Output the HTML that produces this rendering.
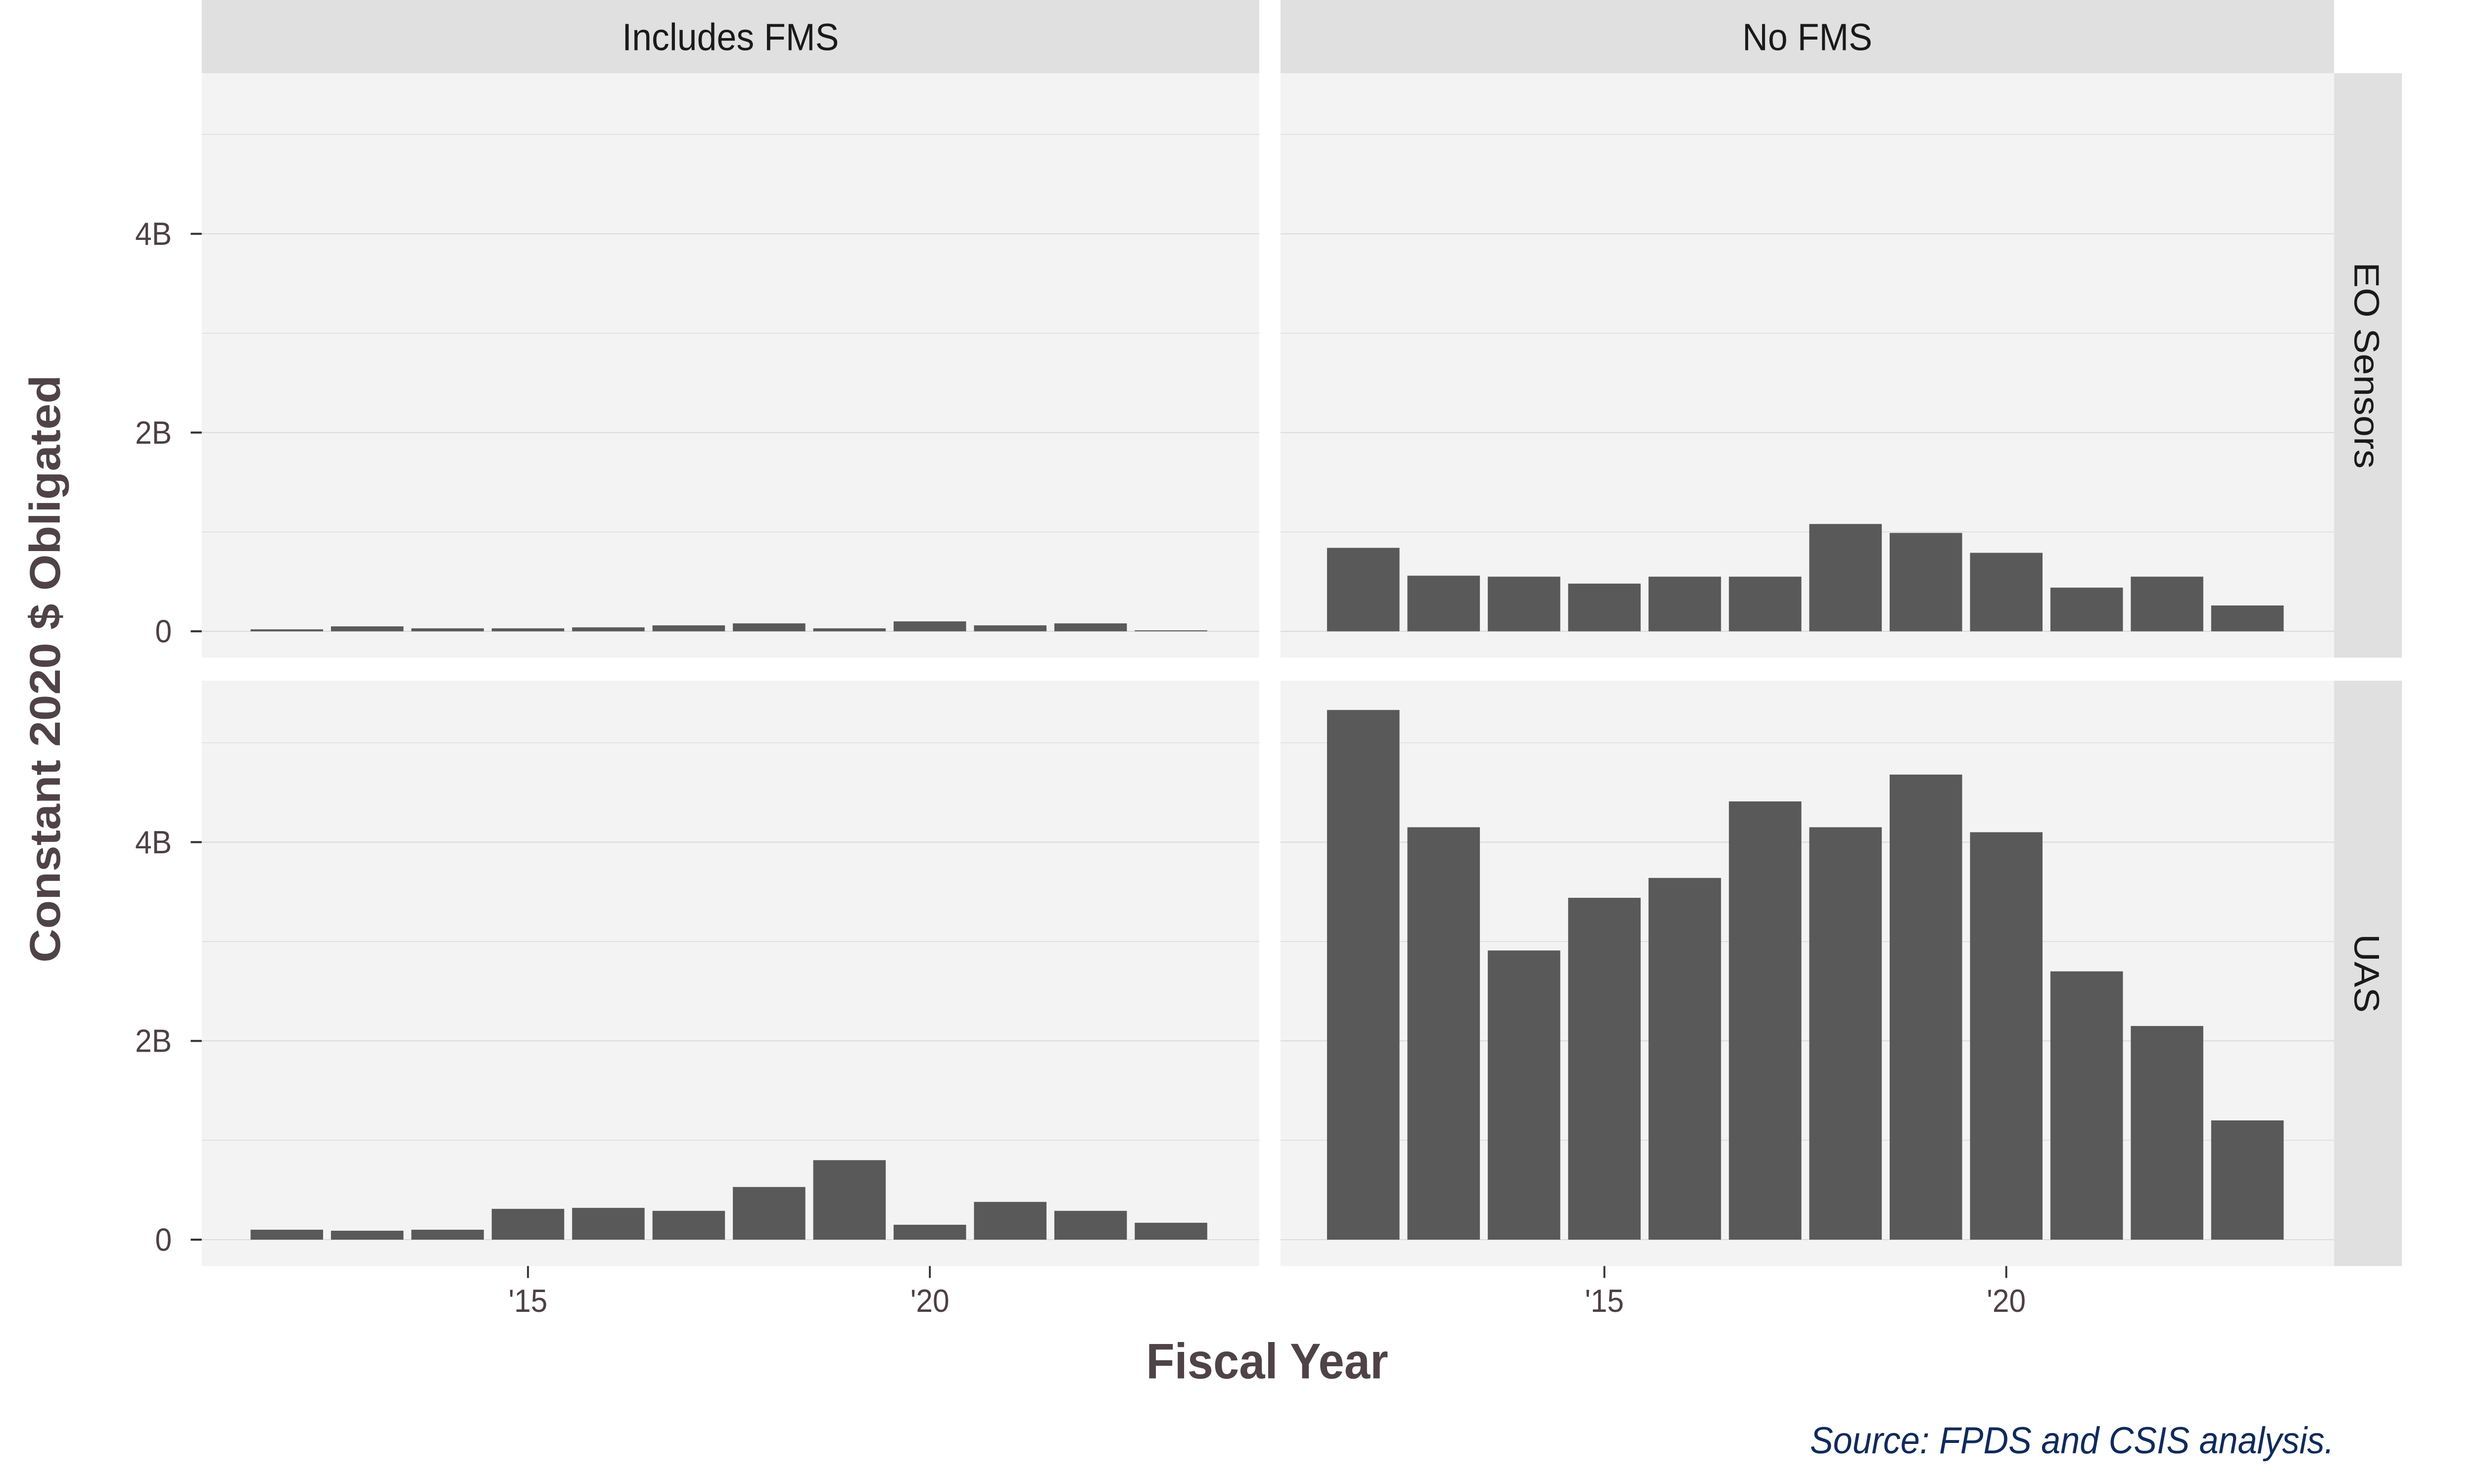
<!DOCTYPE html>
<html><head><meta charset="utf-8"><style>
html,body{margin:0;padding:0;background:#fff;width:100%;height:100%;overflow:hidden}
svg{position:fixed;left:0;top:0;display:block;width:100vw;height:100vh}
text{font-family:"Liberation Sans",sans-serif}
</style></head><body>
<svg id="chart" xmlns="http://www.w3.org/2000/svg" viewBox="0 0 1569.77 872.09" preserveAspectRatio="none">
<rect width="1569.77" height="872.09" fill="#fff"/>
<g id="root"></g>
</svg>
<script>
const years = [2012,2013,2014,2015,2016,2017,2018,2019,2020,2021,2022,2023];
const eoIncludesFms = [0.02,0.05,0.03,0.03,0.04,0.06,0.08,0.03,0.10,0.06,0.08,0.01];
const eoNoFms = [0.84,0.56,0.55,0.48,0.55,0.55,1.08,0.99,0.79,0.44,0.55,0.26];
const uasIncludesFms = [0.10,0.09,0.10,0.31,0.32,0.29,0.53,0.80,0.15,0.38,0.29,0.17];
const uasNoFms = [5.33,4.15,2.91,3.44,3.64,4.41,4.15,4.68,4.10,2.70,2.15,1.20];
const yTicks = [0,2,4];
const yTickLabels = ['0','2B','4B'];
const xTicks = [2015,2020];
const xTickLabels = ["'15","'20"];
const colLabels = ['Includes FMS','No FMS'];
const rowLabels = ['EO Sensors','UAS'];

const NS='http://www.w3.org/2000/svg';
const root=document.getElementById('root');
function mk(tag,attrs,parent,txt){const e=document.createElementNS(NS,tag);for(const k in attrs)e.setAttribute(k,attrs[k]);if(txt!==undefined)e.textContent=txt;(parent||root).appendChild(e);return e;}

const colX=[[128,799],[812.5,1481]];
const rowY=[[43,386.5],[400,744]];
const zeroY=[371,728.5];
const pxPerB=58.4;
const pxPerYear=51;
const ref15=[335,1018];
function xScale(c,yr){return ref15[c]+(yr-2015)*pxPerYear;}
function yScale(r,v){return zeroY[r]-v*pxPerB;}
const data=[[eoIncludesFms,eoNoFms],[uasIncludesFms,uasNoFms]];
const panelNames=[['eo-includes-fms','eo-no-fms'],['uas-includes-fms','uas-no-fms']];

for(let r=0;r<2;r++){for(let c=0;c<2;c++){
  const g=mk('g',{});
  
  
  mk('rect',{x:colX[c][0],y:rowY[r][0],width:colX[c][1]-colX[c][0],height:rowY[r][1]-rowY[r][0],fill:'#f3f3f3'},g);
  for(let v=0;v<=5;v++){
    const y=yScale(r,v);
    const l=mk('line',{x1:colX[c][0],x2:colX[c][1],y1:y,y2:y,stroke:'#d6d6d6','stroke-width':v%2===0?0.5:0.35},g);
    
    
  }
  const vals=data[r][c];
  for(let i=0;i<years.length;i++){
    const x=xScale(c,years[i]);const y=yScale(r,vals[i]);
    const b=mk('rect',{x:x-23,y:y,width:46,height:zeroY[r]-y,fill:'#595959'},g);
    
    
  }
}}
for(let c=0;c<2;c++){
  const s=mk('rect',{x:colX[c][0],y:0,width:colX[c][1]-colX[c][0],height:43,fill:'#e0e0e0'});
  
  
  const t=mk('text',{x:(colX[c][0]+colX[c][1])/2,y:29.5,'font-size':22.5,'text-anchor':'middle',fill:'#1a1a1a'},root,colLabels[c]);
  
  
}
for(let r=0;r<2;r++){
  const s=mk('rect',{x:1481,y:rowY[r][0],width:43,height:rowY[r][1]-rowY[r][0],fill:'#e0e0e0'});
  
  
  const cy=(rowY[r][0]+rowY[r][1])/2;
  const t=mk('text',{x:1494,y:cy,'font-size':22.5,'text-anchor':'middle',fill:'#1a1a1a',transform:'rotate(90 1494 '+cy+')'},root,rowLabels[r]);
  
  
}
for(let r=0;r<2;r++){for(let i=0;i<yTicks.length;i++){
  const y=yScale(r,yTicks[i]);
  const tk=mk('line',{x1:121,x2:128,y1:y,y2:y,stroke:'#333','stroke-width':1.2});
  
  
  const t=mk('text',{x:109,y:y+6.5,'font-size':19,'text-anchor':'end',fill:'#4d4044'},root,yTickLabels[i]);
  
  
}}
for(let c=0;c<2;c++){for(let i=0;i<xTicks.length;i++){
  const x=xScale(c,xTicks[i]);
  const tk=mk('line',{x1:x,x2:x,y1:744,y2:751,stroke:'#333','stroke-width':1.2});
  
  
  const t=mk('text',{x:x,y:771,'font-size':19,'text-anchor':'middle',fill:'#4d4044'},root,xTickLabels[i]);
  
  
}}
const xt=mk('text',{x:804,y:810,'font-size':29.5,'font-weight':'bold','text-anchor':'middle',fill:'#4f4347'},root,'Fiscal Year');


const yt=mk('text',{x:38,y:393,'font-size':27.5,'font-weight':'bold','text-anchor':'middle',fill:'#4f4347',transform:'rotate(-90 38 393)'},root,'Constant 2020 $ Obligated');


const src=mk('text',{x:1481,y:854,'font-size':22,'font-style':'italic','text-anchor':'end',fill:'#0f2b5b'},root,'Source: FPDS and CSIS analysis.');


</script>
</body></html>
